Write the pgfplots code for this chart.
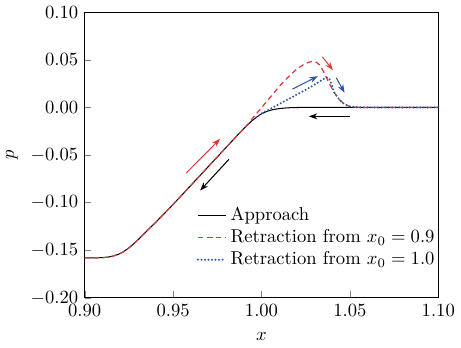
\documentclass[border=0pt]{standalone}
\usepackage{pgfplots}
\pgfplotsset{compat=1.18}
\usetikzlibrary{arrows.meta}
\definecolor{myred}{RGB}{222,55,55}
\definecolor{myblue}{RGB}{45,85,165}
\begin{document}
\begin{tikzpicture}
\begin{axis}[
  scale only axis,
  width=190pt, height=153.5pt,
  xmin=0.9, xmax=1.1, ymin=-0.2, ymax=0.1,
  xtick={0.9,0.95,1.0,1.05,1.1},
  ytick={-0.2,-0.15,-0.1,-0.05,0,0.05,0.1},
  tick pos=left,
  tick align=inside,
  major tick length=3.5pt,
  xticklabel style={/pgf/number format/.cd,fixed,fixed zerofill,precision=2},
  yticklabel style={/pgf/number format/.cd,fixed,fixed zerofill,precision=2},
  scaled ticks=false,
  xlabel={$x$}, ylabel={$p$},
  xlabel style={yshift=-2pt},
  legend style={draw=none, fill=none, at={(0.3,0.345)}, anchor=north west, row sep=-0.6pt},
  legend cell align=left,
  legend image post style={xscale=0.88},
]
\addplot[black, line width=0.55pt] coordinates {
(0.900,-0.1580) (0.905,-0.1580) (0.910,-0.1578) (0.913,-0.1573) (0.916,-0.1562)
(0.919,-0.1543) (0.922,-0.1515) (0.925,-0.1475) (0.928,-0.1428) (0.931,-0.1375)
(0.935,-0.1300) (0.940,-0.1210) (0.945,-0.1115) (0.950,-0.1018) (0.955,-0.0920)
(0.960,-0.0820) (0.965,-0.0720) (0.970,-0.0620) (0.975,-0.0520) (0.980,-0.0420)
(0.985,-0.0320) (0.990,-0.0222) (0.994,-0.0150) (0.997,-0.0105) (1.000,-0.0068)
(1.003,-0.0042) (1.006,-0.0025) (1.010,-0.0012) (1.015,-0.0004) (1.020,-0.0001)
(1.030,0) (1.100,0)
};
\addlegendentry{Approach}
\addplot[myred, line width=0.65pt, dash pattern=on 2.8pt off 2pt] coordinates {
(0.900,-0.1580) (0.905,-0.1580) (0.910,-0.1578) (0.913,-0.1573) (0.916,-0.1562)
(0.919,-0.1543) (0.922,-0.1515) (0.925,-0.1475) (0.928,-0.1428) (0.931,-0.1375)
(0.935,-0.1300) (0.940,-0.1210) (0.945,-0.1115) (0.950,-0.1018) (0.955,-0.0920)
(0.960,-0.0820) (0.965,-0.0720) (0.970,-0.0620) (0.975,-0.0520) (0.980,-0.0420)
(0.985,-0.0320) (0.990,-0.0222) (0.993,-0.0160) (0.996,-0.0090) (1.000,-0.0003)
(1.005,0.0108) (1.010,0.0220) (1.015,0.0318) (1.020,0.0403) (1.024,0.0453)
(1.027,0.0476) (1.029,0.0482) (1.031,0.0474) (1.033,0.0445) (1.035,0.0380)
(1.038,0.0265) (1.041,0.0160) (1.044,0.0082) (1.047,0.0032) (1.050,0.0010)
(1.054,0.0001) (1.058,0) (1.100,0)
};
\addlegendentry{Retraction from $x_0=0.9$}
\addplot[myblue, line width=1.2pt, line cap=round, dash pattern=on 0pt off 1.9pt] coordinates {
(0.997,-0.0105) (1.000,-0.0065) (1.003,-0.0035) (1.006,-0.0005) (1.010,0.0035)
(1.015,0.0085) (1.020,0.0135) (1.025,0.0185) (1.030,0.0238) (1.034,0.0285)
(1.036,0.0308) (1.0375,0.0315) (1.0385,0.0295) (1.040,0.0225) (1.041,0.0160)
(1.044,0.0082) (1.047,0.0032) (1.050,0.0010) (1.054,0.0001) (1.058,0) (1.100,0)
};
\addlegendentry{Retraction from $x_0=1.0$}
% direction arrows
\draw[myred, line width=0.55pt, -{Stealth[length=4.5pt,width=3.2pt]}] (axis cs:0.9574,-0.069) -- (axis cs:0.9766,-0.033);
\draw[black, line width=0.55pt, -{Stealth[length=4.5pt,width=3.2pt]}] (axis cs:0.9816,-0.0545) -- (axis cs:0.9653,-0.0873);
\draw[black, line width=0.55pt, -{Stealth[length=4.5pt,width=3.2pt]}] (axis cs:1.0498,-0.0094) -- (axis cs:1.0268,-0.0094);
\draw[myred, line width=0.55pt, -{Stealth[length=4.5pt,width=3.2pt]}] (axis cs:1.0344,0.0531) -- (axis cs:1.0404,0.0392);
\draw[myblue, line width=0.55pt, -{Stealth[length=4.5pt,width=3.2pt]}] (axis cs:1.0175,0.0192) -- (axis cs:1.0319,0.0328);
\draw[myblue, line width=0.55pt, -{Stealth[length=4.5pt,width=3.2pt]}] (axis cs:1.0423,0.0311) -- (axis cs:1.0470,0.0154);
\end{axis}
\end{tikzpicture}
\end{document}
